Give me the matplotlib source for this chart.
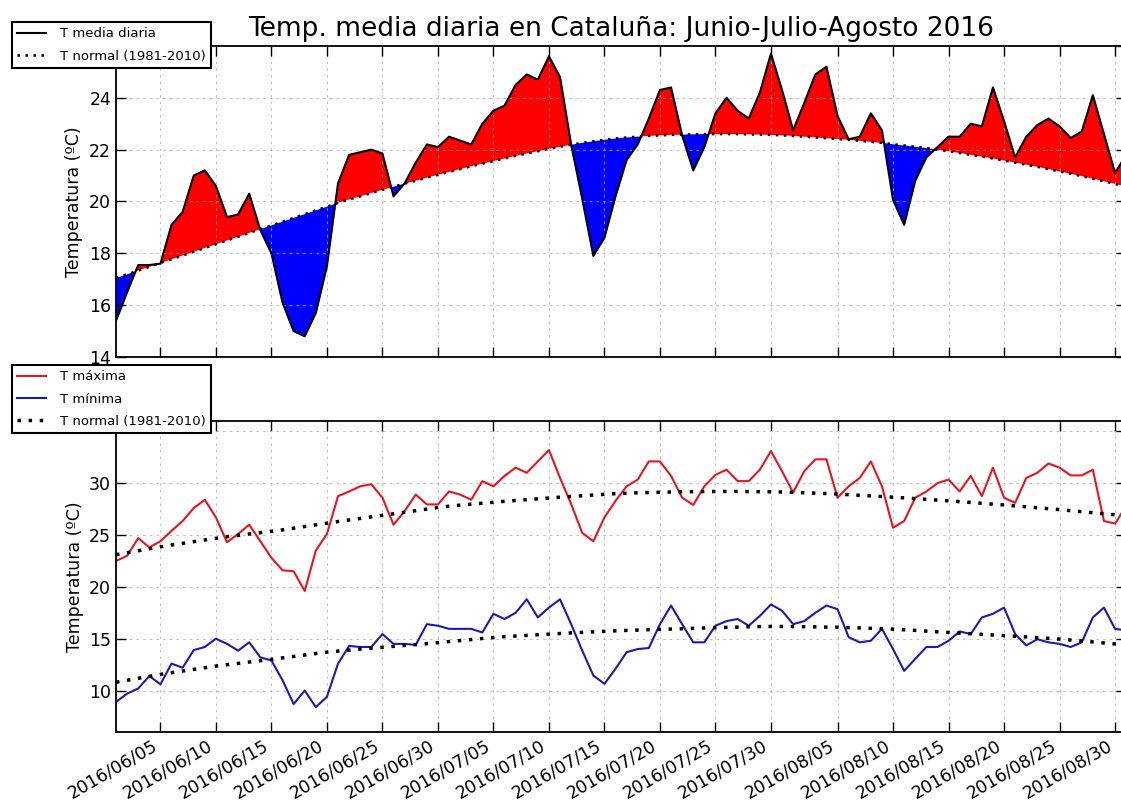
import numpy as np
import pandas as pd
import matplotlib
matplotlib.use('Agg')
import matplotlib.pyplot as plt
import matplotlib.dates as mdates

# --- datos ---
fechas = pd.date_range('2016-06-01', '2016-08-31', freq='D')

t_media = [15.4, 16.5, 17.55, 17.55, 17.6, 19.1, 19.6, 21.0, 21.2, 20.6,
           19.4, 19.5, 20.3, 18.9, 18.0, 16.1, 15.0, 14.8, 15.7, 17.5,
           20.7, 21.8, 21.9, 22.0, 21.85, 20.2, 20.7, 21.5, 22.2, 22.1,
           22.5, 22.35, 22.2, 23.0, 23.5, 23.7, 24.5, 24.9, 24.7, 25.6,
           24.8, 22.2, 20.1, 17.9, 18.6, 20.2, 21.6, 22.2, 23.2, 24.3,
           24.4, 22.55, 21.2, 22.1, 23.4, 24.0, 23.5, 23.2, 24.2, 25.7,
           24.3, 22.75, 23.8, 24.9, 25.2, 23.3, 22.4, 22.5, 23.4, 22.75,
           20.06, 19.1, 20.8, 21.7, 22.1, 22.5, 22.5, 23.0, 22.9, 24.4,
           23.1, 21.7, 22.5, 22.95, 23.2, 22.9, 22.45, 22.7, 24.1, 22.6,
           21.1, 21.8]

t_media_normal = [17.05, 17.19, 17.34, 17.48, 17.63, 17.77, 17.92, 18.06, 18.21, 18.35,
                  18.50, 18.64, 18.79, 18.93, 19.08, 19.22, 19.37, 19.51, 19.66, 19.80,
                  19.95, 20.08, 20.20, 20.33, 20.45, 20.57, 20.69, 20.80, 20.92, 21.03,
                  21.14, 21.25, 21.36, 21.46, 21.56, 21.66, 21.76, 21.85, 21.94, 22.03,
                  22.11, 22.19, 22.26, 22.32, 22.38, 22.43, 22.47, 22.50, 22.53, 22.55,
                  22.57, 22.58, 22.59, 22.60, 22.60, 22.60, 22.60, 22.59, 22.58, 22.57,
                  22.55, 22.53, 22.50, 22.47, 22.44, 22.41, 22.38, 22.34, 22.30, 22.26,
                  22.21, 22.16, 22.11, 22.06, 22.00, 21.94, 21.87, 21.80, 21.73, 21.66,
                  21.58, 21.50, 21.42, 21.34, 21.25, 21.16, 21.07, 20.98, 20.88, 20.78,
                  20.68, 20.58]

t_max = [22.5, 23.0, 24.7, 23.8, 24.4, 25.4, 26.35, 27.6, 28.4, 26.7,
         24.3, 25.1, 26.0, 24.4, 22.8, 21.6, 21.5, 19.6, 23.5, 25.1,
         28.75, 29.2, 29.7, 29.9, 28.6, 26.0, 27.3, 28.9, 27.95, 27.95,
         29.2, 28.9, 28.4, 30.2, 29.7, 30.7, 31.5, 31.0, 32.1, 33.2,
         30.5, 28.0, 25.2, 24.4, 26.7, 28.3, 29.7, 30.35, 32.1, 32.1,
         30.7, 28.6, 27.9, 29.7, 30.8, 31.3, 30.2, 30.2, 31.3, 33.1,
         31.15, 29.1, 31.15, 32.3, 32.3, 28.6, 29.7, 30.5, 32.1, 29.7,
         25.7, 26.35, 28.6, 29.2, 30.0, 30.35, 29.2, 30.7, 28.75, 31.5,
         28.6, 28.1, 30.5, 31.0, 31.9, 31.5, 30.75, 30.75, 31.3, 26.35,
         26.1, 27.8]

t_min = [8.9, 9.7, 10.2, 11.4, 10.6, 12.6, 12.2, 13.9, 14.2, 15.0,
         14.5, 13.85, 14.65, 13.2, 12.9, 11.0, 8.7, 10.0, 8.4, 9.4,
         12.6, 14.3, 14.2, 14.2, 15.45, 14.5, 14.5, 14.4, 16.4, 16.25,
         15.95, 15.95, 15.95, 15.6, 17.4, 16.9, 17.5, 18.8, 17.05, 18.0,
         18.8, 16.4, 13.85, 11.45, 10.65, 12.1, 13.7, 14.0, 14.1, 16.4,
         18.2, 16.4, 14.65, 14.65, 16.25, 16.7, 16.9, 16.25, 17.2, 18.3,
         17.7, 16.4, 16.7, 17.5, 18.2, 17.85, 15.15, 14.65, 14.8, 15.95,
         14.0, 11.9, 13.05, 14.2, 14.2, 14.8, 15.7, 15.45, 17.05, 17.4,
         18.0, 15.45, 14.35, 14.95, 14.65, 14.5, 14.2, 14.65, 17.05, 18.0,
         15.95, 15.8]

t_max_normal = [23.10, 23.29, 23.48, 23.67, 23.86, 24.04, 24.20, 24.36, 24.52, 24.68,
                24.84, 24.97, 25.10, 25.23, 25.36, 25.50, 25.66, 25.82, 25.98, 26.14,
                26.30, 26.45, 26.60, 26.75, 26.90, 27.05, 27.20, 27.35, 27.50, 27.65,
                27.78, 27.88, 27.98, 28.07, 28.16, 28.25, 28.33, 28.41, 28.49, 28.57,
                28.65, 28.72, 28.79, 28.86, 28.93, 28.99, 29.03, 29.07, 29.10, 29.13,
                29.15, 29.17, 29.18, 29.19, 29.20, 29.20, 29.20, 29.19, 29.18, 29.17,
                29.15, 29.12, 29.08, 29.04, 29.00, 28.95, 28.89, 28.83, 28.77, 28.71,
                28.65, 28.58, 28.51, 28.44, 28.37, 28.30, 28.22, 28.14, 28.06, 27.98,
                27.90, 27.81, 27.72, 27.63, 27.54, 27.45, 27.35, 27.25, 27.15, 27.05,
                26.95, 26.85]

t_min_normal = [10.80, 10.99, 11.18, 11.37, 11.56, 11.72, 11.88, 12.04, 12.20, 12.36,
                12.49, 12.62, 12.75, 12.88, 13.01, 13.15, 13.29, 13.43, 13.57, 13.70,
                13.80, 13.90, 14.00, 14.09, 14.17, 14.26, 14.35, 14.43, 14.52, 14.62,
                14.72, 14.82, 14.92, 15.02, 15.11, 15.20, 15.26, 15.32, 15.38, 15.44,
                15.50, 15.56, 15.61, 15.66, 15.71, 15.76, 15.80, 15.83, 15.87, 15.90,
                15.93, 15.96, 16.00, 16.03, 16.06, 16.09, 16.12, 16.15, 16.17, 16.18,
                16.18, 16.17, 16.16, 16.14, 16.12, 16.10, 16.07, 16.04, 16.00, 15.96,
                15.92, 15.86, 15.80, 15.73, 15.66, 15.60, 15.54, 15.48, 15.42, 15.36,
                15.30, 15.24, 15.17, 15.10, 15.03, 14.96, 14.87, 14.78, 14.69, 14.59,
                14.49, 14.39]

yticks_media = [14, 16, 18, 20, 22, 24, 26]
yticks_maxmin = [10, 15, 20, 25, 30, 35]

titulo = 'Temp. media diaria en Cataluña: Junio-Julio-Agosto 2016'
etiqueta_y = 'Temperatura (ºC)'

tm = np.array(t_media)
tn = np.array(t_media_normal)

punteado = (0, (1, 2.2))


def estilo(ax, ticks, ylim):
    ax.set_xlim(fechas[0], fechas[-1])
    ax.set_ylim(*ylim)
    ax.set_yticks(ticks)
    ax.set_yticklabels([str(t) for t in ticks[:-1]] + [''])
    ax.xaxis.set_major_locator(mdates.DayLocator(bymonthday=[5, 10, 15, 20, 25, 30]))
    ax.xaxis.set_major_formatter(mdates.DateFormatter('%Y/%m/%d'))
    ax.tick_params(direction='in', length=7, width=1, top=True, right=True,
                   labelsize=12.5)
    ax.grid(True, color='#b4b4b4', linestyle=(0, (3, 5)), linewidth=0.6)
    for s in ax.spines.values():
        s.set_linewidth(1.3)
    ax.set_ylabel(etiqueta_y, fontsize=12.5)


def leyenda(ax, y_px):
    leg = ax.legend(loc='upper left', bbox_to_anchor=(12 / 1121, 1 - y_px / 806),
                    bbox_transform=fig.transFigure, borderaxespad=0, fontsize=9.5,
                    fancybox=False, framealpha=1, edgecolor='black',
                    handlelength=2.2, handletextpad=1.0, labelspacing=0.7)
    leg.get_frame().set_linewidth(1.5)
    return leg


fig = plt.figure(figsize=(11.21, 8.06), dpi=100)

# --- panel superior: temperatura media ---
ax1 = fig.add_axes([0.1035, 0.557, 0.9011, 0.386])
ax1.fill_between(fechas, tm, tn, where=tm >= tn, interpolate=True, color='red', lw=0)
ax1.fill_between(fechas, tm, tn, where=tm <= tn, interpolate=True, color='blue', lw=0)
ax1.plot(fechas, tm, color='black', lw=1.5, label='T media diaria')
ax1.plot(fechas, tn, color='black', lw=1.8, linestyle=punteado, label='T normal (1981-2010)')
estilo(ax1, yticks_media, (14, 26))
ax1.tick_params(labelbottom=False)
ax1.set_title(titulo, fontsize=19, pad=7)
leyenda(ax1, 22)

# --- panel inferior: maxima y minima ---
ax2 = fig.add_axes([0.1035, 0.0918, 0.9011, 0.3859])
ax2.plot(fechas, t_max, color='#e8141e', lw=1.5, label='T máxima')
ax2.plot(fechas, t_min, color='#1a1ab4', lw=1.5, label='T mínima')
ax2.plot(fechas, t_max_normal, color='black', lw=2.5, linestyle=punteado,
         label='T normal (1981-2010)')
ax2.plot(fechas, t_min_normal, color='black', lw=2.5, linestyle=punteado)
estilo(ax2, yticks_maxmin, (6, 36))
plt.setp(ax2.get_xticklabels(), rotation=30, ha='right')
leyenda(ax2, 365)

fig.savefig('out.png', dpi=100)
